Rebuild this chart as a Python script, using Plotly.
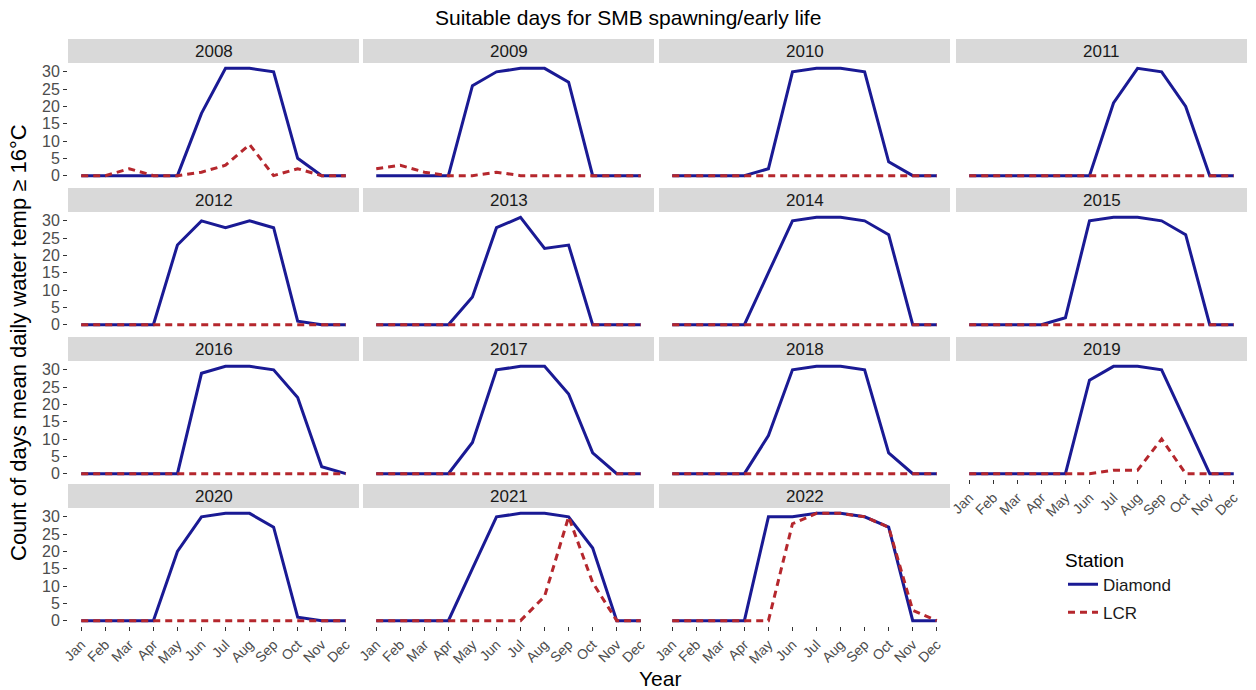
import plotly.graph_objects as go

# Monthly counts of days with mean daily water temperature >= 16 °C
months = ["Jan", "Feb", "Mar", "Apr", "May", "Jun", "Jul", "Aug", "Sep", "Oct", "Nov", "Dec"]
month_num = list(range(1, 13))
years = [2008, 2009, 2010, 2011, 2012, 2013, 2014, 2015,
         2016, 2017, 2018, 2019, 2020, 2021, 2022]

diamond_2008 = [0, 0, 0, 0, 0, 18, 31, 31, 30, 5, 0, 0]
diamond_2009 = [0, 0, 0, 0, 26, 30, 31, 31, 27, 0, 0, 0]
diamond_2010 = [0, 0, 0, 0, 2, 30, 31, 31, 30, 4, 0, 0]
diamond_2011 = [0, 0, 0, 0, 0, 0, 21, 31, 30, 20, 0, 0]
diamond_2012 = [0, 0, 0, 0, 23, 30, 28, 30, 28, 1, 0, 0]
diamond_2013 = [0, 0, 0, 0, 8, 28, 31, 22, 23, 0, 0, 0]
diamond_2014 = [0, 0, 0, 0, 15, 30, 31, 31, 30, 26, 0, 0]
diamond_2015 = [0, 0, 0, 0, 2, 30, 31, 31, 30, 26, 0, 0]
diamond_2016 = [0, 0, 0, 0, 0, 29, 31, 31, 30, 22, 2, 0]
diamond_2017 = [0, 0, 0, 0, 9, 30, 31, 31, 23, 6, 0, 0]
diamond_2018 = [0, 0, 0, 0, 11, 30, 31, 31, 30, 6, 0, 0]
diamond_2019 = [0, 0, 0, 0, 0, 27, 31, 31, 30, 15, 0, 0]
diamond_2020 = [0, 0, 0, 0, 20, 30, 31, 31, 27, 1, 0, 0]
diamond_2021 = [0, 0, 0, 0, 15, 30, 31, 31, 30, 21, 0, 0]
diamond_2022 = [0, 0, 0, 0, 30, 30, 31, 31, 30, 27, 0, 0]

lcr_2008 = [0, 0, 2, 0, 0, 1, 3, 9, 0, 2, 0, 0]
lcr_2009 = [2, 3, 1, 0, 0, 1, 0, 0, 0, 0, 0, 0]
lcr_2010 = [0, 0, 0, 0, 0, 0, 0, 0, 0, 0, 0, 0]
lcr_2011 = [0, 0, 0, 0, 0, 0, 0, 0, 0, 0, 0, 0]
lcr_2012 = [0, 0, 0, 0, 0, 0, 0, 0, 0, 0, 0, 0]
lcr_2013 = [0, 0, 0, 0, 0, 0, 0, 0, 0, 0, 0, 0]
lcr_2014 = [0, 0, 0, 0, 0, 0, 0, 0, 0, 0, 0, 0]
lcr_2015 = [0, 0, 0, 0, 0, 0, 0, 0, 0, 0, 0, 0]
lcr_2016 = [0, 0, 0, 0, 0, 0, 0, 0, 0, 0, 0, 0]
lcr_2017 = [0, 0, 0, 0, 0, 0, 0, 0, 0, 0, 0, 0]
lcr_2018 = [0, 0, 0, 0, 0, 0, 0, 0, 0, 0, 0, 0]
lcr_2019 = [0, 0, 0, 0, 0, 0, 1, 1, 10, 0, 0, 0]
lcr_2020 = [0, 0, 0, 0, 0, 0, 0, 0, 0, 0, 0, 0]
lcr_2021 = [0, 0, 0, 0, 0, 0, 0, 7, 30, 11, 0, 0]
lcr_2022 = [0, 0, 0, 0, 0, 28, 31, 31, 30, 27, 3, 0]

diamond = [diamond_2008, diamond_2009, diamond_2010, diamond_2011, diamond_2012,
           diamond_2013, diamond_2014, diamond_2015, diamond_2016, diamond_2017,
           diamond_2018, diamond_2019, diamond_2020, diamond_2021, diamond_2022]
lcr = [lcr_2008, lcr_2009, lcr_2010, lcr_2011, lcr_2012, lcr_2013, lcr_2014,
       lcr_2015, lcr_2016, lcr_2017, lcr_2018, lcr_2019, lcr_2020, lcr_2021, lcr_2022]

y_ticks = [0, 5, 10, 15, 20, 25, 30]

W, H = 1256, 690
FONT = "Liberation Sans, Arial, sans-serif"
C_DIAMOND = "#1a1a94"
C_LCR = "#b5272d"

col_left = [68, 363, 659, 956]
panel_w = 291
row_top = [63, 212, 361, 508]
panel_h = 118
strip_h = 24

fig = go.Figure()
shapes = []
annotations = []

n = len(years)
for i, yr in enumerate(years):
    r, c = divmod(i, 4)
    ax = "" if i == 0 else str(i + 1)
    x0 = col_left[c] / W
    x1 = (col_left[c] + panel_w) / W
    y1 = 1 - row_top[r] / H
    y0 = 1 - (row_top[r] + panel_h) / H

    show_x = (i + 4) >= n
    show_y = c == 0

    fig.add_trace(go.Scatter(
        x=month_num, y=diamond[i], mode="lines", name="Diamond",
        line=dict(color=C_DIAMOND, width=3), showlegend=(i == 0),
        legendgroup="Diamond", xaxis="x" + ax, yaxis="y" + ax))
    fig.add_trace(go.Scatter(
        x=month_num, y=lcr[i], mode="lines", name="LCR",
        line=dict(color=C_LCR, width=3, dash="7px,5px"), showlegend=(i == 0),
        legendgroup="LCR", xaxis="x" + ax, yaxis="y" + ax))

    fig.update_layout({
        "xaxis" + ax: dict(
            domain=[x0, x1], anchor="y" + ax, range=[0.45, 12.55],
            tickmode="array", tickvals=month_num, ticktext=months,
            showticklabels=show_x, ticks="outside" if show_x else "",
            ticklen=4, tickcolor="#333333", tickangle=-45, automargin=False,
            tickfont=dict(family=FONT, size=14, color="#4d4d4d"),
            showgrid=False, zeroline=False, showline=False, fixedrange=True),
        "yaxis" + ax: dict(
            domain=[y0, y1], anchor="x" + ax, range=[-1.55, 32.55],
            tickmode="array", tickvals=y_ticks,
            showticklabels=show_y, ticks="outside" if show_y else "",
            ticklen=4, tickcolor="#333333", automargin=False,
            tickfont=dict(family=FONT, size=16, color="#4d4d4d"),
            showgrid=False, zeroline=False, showline=False, fixedrange=True),
    })

    # facet strip
    st_top = 1 - (row_top[r] - strip_h) / H
    shapes.append(dict(type="rect", xref="paper", yref="paper",
                       x0=x0, x1=x1, y0=y1, y1=st_top,
                       fillcolor="#d9d9d9", line=dict(width=0), layer="below"))
    annotations.append(dict(text=str(yr), xref="paper", yref="paper",
                            x=(x0 + x1) / 2, y=(y1 + st_top) / 2,
                            xanchor="center", yanchor="middle", showarrow=False,
                            font=dict(family=FONT, size=17, color="#1a1a1a")))

annotations += [
    dict(text="Suitable days for SMB spawning/early life", xref="paper", yref="paper",
         x=628 / W, y=1 - 17 / H, xanchor="center", yanchor="middle", showarrow=False,
         font=dict(family=FONT, size=21, color="#000000")),
    dict(text="Count of days mean daily water temp ≥ 16°C", xref="paper", yref="paper",
         x=19 / W, y=1 - 343 / H, xanchor="center", yanchor="middle", showarrow=False,
         textangle=-90, font=dict(family=FONT, size=22, color="#000000")),
    dict(text="Year", xref="paper", yref="paper",
         x=660 / W, y=1 - 678 / H, xanchor="center", yanchor="middle", showarrow=False,
         font=dict(family=FONT, size=21, color="#000000")),
]

fig.update_layout(
    width=W, height=H,
    margin=dict(l=0, r=0, t=0, b=0, autoexpand=False),
    paper_bgcolor="white", plot_bgcolor="white",
    shapes=shapes, annotations=annotations,
    showlegend=True,
    legend=dict(
        title=dict(text="Station", font=dict(family=FONT, size=19, color="#000000")),
        font=dict(family=FONT, size=17, color="#1a1a1a"),
        x=1063 / W, y=1 - 542 / H, xanchor="left", yanchor="top",
        bgcolor="rgba(0,0,0,0)", itemwidth=30, tracegroupgap=3),
)

fig.write_html("out.html")
